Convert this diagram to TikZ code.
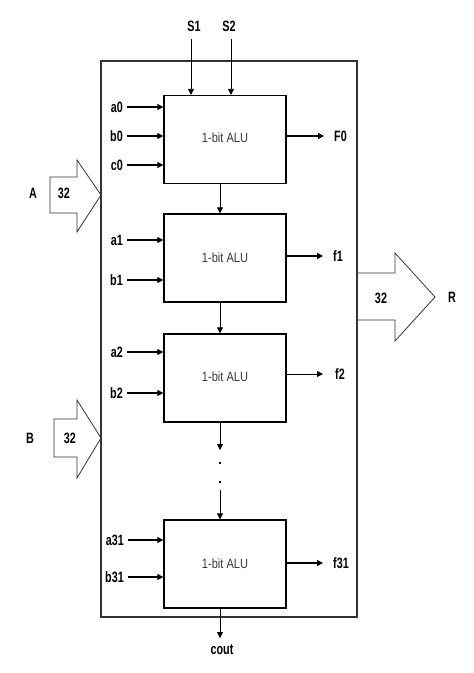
\documentclass[tikz,border=0pt]{standalone}
\usepackage{fontspec}
\newfontfamily\lblfont[FakeStretch=0.72]{Liberation Sans}
\newfontfamily\alufont[FakeStretch=0.82]{Liberation Sans}
\usetikzlibrary{arrows.meta}
\definecolor{linegray}{HTML}{333333}
\definecolor{alutext}{HTML}{3A3A3A}
\tikzset{
  lbl/.style={font=\lblfont\bfseries\fontsize{15}{17}\selectfont, inner sep=0pt, text depth=0pt},
  alubox/.style={draw=black, line width=1.3pt, minimum width=122pt, minimum height=88pt, inner sep=0pt,
    font=\alufont\fontsize{13.5}{15}\selectfont, text=alutext},
  inarr/.style={line width=1.2pt, -{Triangle[length=6pt,width=6pt]}},
  thinarr/.style={line width=0.8pt, -{Triangle[length=6pt,width=6pt]}},
  blockarrow/.style={draw=linegray, line width=0.8pt},
  outerbox/.style={draw=linegray, line width=1.1pt},
  dotmark/.style={fill=black, draw=none, minimum size=2.5pt, inner sep=0pt, shape=rectangle}
}
\begin{document}
\begin{tikzpicture}[x=1pt,y=-1pt]
\useasboundingbox (0,0) rectangle (474,673);
% outer rectangle
\draw[outerbox] (101,61) rectangle (357,617);
% ALU boxes
\node[alubox] (alu0) at (225,139.5) {\raisebox{3pt}{1-bit ALU}};
\node[alubox] (alu1) at (225,258) {1-bit ALU};
\node[alubox] (alu2) at (225,378) {\raisebox{3pt}{1-bit ALU}};
\node[alubox] (alu3) at (225,564) {1-bit ALU};
% select lines
\node[lbl] (s1) at (194,26) {S1};
\node[lbl] (s2) at (229,26) {S2};
\coordinate (s1t) at (191,39);
\coordinate (s2t) at (231,39);
\draw[thinarr] (s1t) -- (s1t |- alu0.north);
\draw[thinarr] (s2t) -- (s2t |- alu0.north);
% input labels
\node[lbl, anchor=east] (la0) at (123,107) {a0};
\node[lbl, anchor=east] (lb0) at (123,136) {b0};
\node[lbl, anchor=east] (lc0) at (123,165) {c0};
\node[lbl, anchor=east] (la1) at (123,240) {a1};
\node[lbl, anchor=east] (lb1) at (123,280) {b1};
\node[lbl, anchor=east] (la2) at (123,352) {a2};
\node[lbl, anchor=east] (lb2) at (123,393) {b2};
\node[lbl, anchor=east] (la31) at (124,540) {a31};
\node[lbl, anchor=east] (lb31) at (124,577) {b31};
% input arrows
\foreach \l/\b in {la0/alu0, lb0/alu0, lc0/alu0, la1/alu1, lb1/alu1, la2/alu2, lb2/alu2, la31/alu3, lb31/alu3}{
  \draw[inarr] ([xshift=4pt]\l.east) -- (\l -| \b.west);
}
% outputs
\node[lbl, anchor=west] (lf0) at (334,136) {F0};
\node[lbl, anchor=west] (lf1) at (333,256) {f1};
\node[lbl, anchor=west] (lf2) at (335,374) {f2};
\node[lbl, anchor=west] (lf31) at (333,563) {f31};
\draw[inarr] (alu0.east |- lf0) -- ([xshift=-10pt]lf0.west);
\draw[inarr] (alu1.east |- lf1) -- ([xshift=-10pt]lf1.west);
\draw[thinarr] (alu2.east |- lf2) -- ([xshift=-12pt]lf2.west);
\draw[inarr] (alu3.east |- lf31) -- ([xshift=-10pt]lf31.west);
% carry chain
\draw[thinarr] ([xshift=-5pt]alu0.south) -- ([xshift=-5pt]alu1.north);
\draw[thinarr] ([xshift=-5pt]alu1.south) -- ([xshift=-5pt]alu2.north);
\coordinate (c2e) at (220,450);
\coordinate (c3s) at (220,490);
\draw[thinarr] ([xshift=-5pt]alu2.south) -- (c2e);
\node[dotmark] (d1) at (220,463) {};
\node[dotmark] (d2) at (220,482) {};
\draw[thinarr] (c3s) -- ([xshift=-5pt]alu3.north);
\node[lbl] (cout) at (222,650) {cout};
\coordinate (coutend) at (220,638);
\draw[thinarr] ([xshift=-5pt]alu3.south) -- (coutend);
% block arrow A
\draw[blockarrow] (50,177) -- (77,177) -- (77,160) -- (101,195) -- (77,232) -- (77,213) -- (50,213) -- cycle;
\node[lbl] (la) at (33,193) {A};
\node[lbl] (n32a) at (64,193) {32};
% block arrow B
\draw[blockarrow] (54,419) -- (77,419) -- (77,400) -- (101,438) -- (77,478) -- (77,457) -- (54,457) -- cycle;
\node[lbl] (lbB) at (30,438) {B};
\node[lbl] (n32b) at (70,438) {32};
% block arrow R
\draw[blockarrow] (357,273) -- (395,273) -- (395,253) -- (435,297) -- (395,341) -- (395,320) -- (357,320);
\node[lbl] (lr) at (452,297) {R};
\node[lbl] (n32r) at (381,298) {32};
\end{tikzpicture}
\end{document}
